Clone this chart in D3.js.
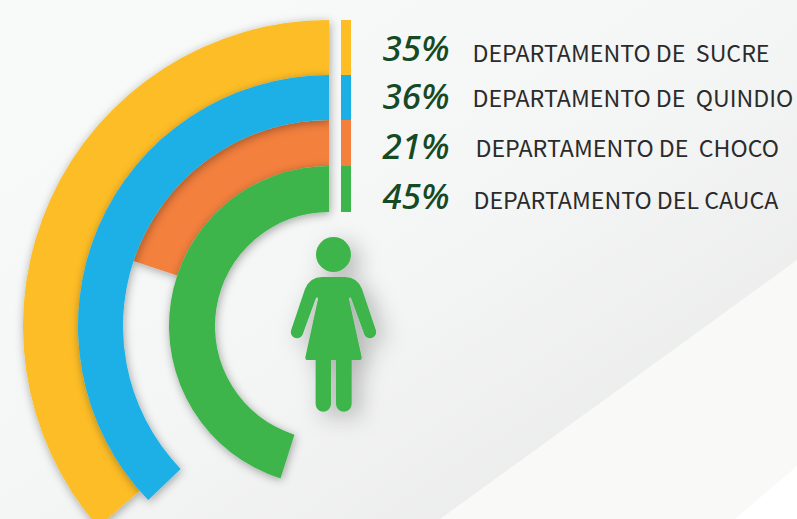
<!DOCTYPE html>
<html>
<head>
<meta charset="utf-8">
<script src="https://cdn.jsdelivr.net/npm/d3@7/dist/d3.min.js"></script>
<style>
  html, body { margin: 0; padding: 0; background: #f5f6f6; overflow: hidden; }
  svg { display: block; }
  text { white-space: pre; }
</style>
</head>
<body>
<script>
  const width = 797;
  const height = 519;

  const departments = ['DEPARTAMENTO DE  SUCRE', 'DEPARTAMENTO DE  QUINDIO', 'DEPARTAMENTO DE  CHOCO', 'DEPARTAMENTO DEL CAUCA'];
  const percents = [35, 36, 21, 45];
  // the printed arcs do not quite follow the printed labels, so this is what is drawn (% of a full turn)
  const drawnShare = [36.4, 37.2, 19.9, 45.1];
  const colors = ['#fdbd25', '#1ab0e6', '#f3803c', '#3cb54c'];
  const ringEdges = [306, 251, 206, 160, 114];
  const labelX = [472.5, 472.5, 475.5, 473.5];
  const labelY = [62, 107, 157, 208.5];
  const percentY = [61, 109, 159, 209];

  const cx = 329;
  const cy = 326;

  const svg = d3.select('body')
    .append('svg')
    .attr('width', width)
    .attr('height', height);

  const defs = svg.append('defs');

  const addShadow = (id, dx, dy, blur, opacity) => {
    const f = defs.append('filter')
      .attr('id', id)
      .attr('x', '-30%').attr('y', '-30%')
      .attr('width', '170%').attr('height', '170%');
    f.append('feDropShadow')
      .attr('dx', dx).attr('dy', dy)
      .attr('stdDeviation', blur)
      .attr('flood-color', '#000')
      .attr('flood-opacity', opacity);
  };
  addShadow('arcShadow', 1, 2, 5, 0.34);
  addShadow('figureShadow', 8, 7, 11, 0.27);

  const bgGrad = defs.append('linearGradient')
    .attr('id', 'bgGrad')
    .attr('x1', 0.25).attr('y1', 0).attr('x2', 0.95).attr('y2', 0.7);
  bgGrad.append('stop').attr('offset', '0%').attr('stop-color', '#f8f9f9');
  bgGrad.append('stop').attr('offset', '55%').attr('stop-color', '#f4f5f5');
  bgGrad.append('stop').attr('offset', '100%').attr('stop-color', '#ececec');

  // background sheets
  const bg = svg.append('g');
  bg.append('rect').attr('width', width).attr('height', height).attr('fill', 'url(#bgGrad)');
  bg.append('path').attr('d', 'M797,260 L440,519 L797,519 Z').attr('fill', '#f9f9f8');
  bg.append('path').attr('d', 'M797,466 L735,519 L797,519 Z').attr('fill', '#ffffff');

  // % of a full turn -> counter-clockwise angle from the top
  const angle = d3.scaleLinear().domain([0, 100]).range([0, -2 * Math.PI]);

  const arc = d3.arc()
    .startAngle(0)
    .endAngle((d) => angle(d.share))
    .innerRadius((d) => ringEdges[d.i + 1])
    .outerRadius((d) => ringEdges[d.i]);

  const rings = drawnShare.map((share, i) => ({ share, i }));

  // paint order from the overlaps in the picture: blue sits on orange and yellow, green on orange
  const order = [0, 2, 1, 3];

  svg.append('g')
    .attr('transform', `translate(${cx},${cy})`)
    .selectAll('path')
    .data(order.map((i) => rings[i]))
    .join('path')
    .attr('d', arc)
    .attr('fill', (d) => colors[d.i])
    .attr('filter', 'url(#arcShadow)');

  // strip next to the arcs, same bands as the rings
  svg.append('g')
    .selectAll('rect')
    .data(rings)
    .join('rect')
    .attr('x', 341)
    .attr('width', 10)
    .attr('y', (d) => cy - ringEdges[d.i])
    .attr('height', (d) => ringEdges[d.i] - ringEdges[d.i + 1])
    .attr('fill', (d) => colors[d.i]);

  // percents
  svg.append('g')
    .selectAll('text')
    .data(percents)
    .join('text')
    .attr('x', 382.5)
    .attr('y', (d, i) => percentY[i])
    .attr('font-family', '"Noto Sans", "Open Sans", sans-serif')
    .attr('font-style', 'italic')
    .attr('font-weight', 500)
    .attr('font-size', 35)
    .attr('fill', '#154a25')
    .text((d) => `${d}%`);

  // names
  svg.append('g')
    .selectAll('text')
    .data(departments)
    .join('text')
    .attr('x', (d, i) => labelX[i])
    .attr('y', (d, i) => labelY[i])
    .attr('font-family', '"Noto Sans CJK SC", "Noto Sans", sans-serif')
    .attr('font-size', 23.2)
    .attr('fill', '#2b2b2b')
    .text((d) => d);

  // woman icon
  const figure = svg.append('g')
    .attr('fill', colors[3])
    .attr('filter', 'url(#figureShadow)');
  figure.append('circle').attr('cx', 333.5).attr('cy', 254.5).attr('r', 17.5);
  figure.append('path').attr('d', [
    'M322,277 L345,277 Q357,277 362,289',
    'L375.5,329 A6,6 0 0 1 364.5,335',
    'L351,298 Q349.5,296 349,299',
    'L361.7,357 Q362,360 360,360',
    'L351.7,360 L351.7,404 A7.8,7.8 0 0 1 336,404 L336,360',
    'L331,360 L331,404 A7.7,7.7 0 0 1 315.6,404 L315.6,360',
    'L307,360 Q305,360 305.4,357',
    'L318,299 Q317.5,296 316,298',
    'L302.5,335 A6,6 0 0 1 291.5,329',
    'L305,289 Q310,277 322,277 Z',
  ].join(' '));
</script>
</body>
</html>
